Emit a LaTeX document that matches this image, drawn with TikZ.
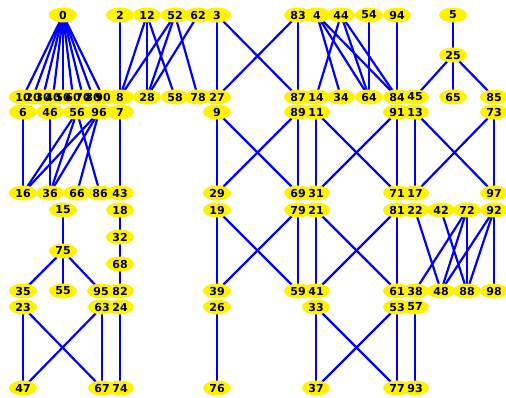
\documentclass[tikz,border=0pt]{standalone}
\usepackage{fontspec}
\newfontfamily\numfont{DejaVu Sans}
\usetikzlibrary{shapes.geometric}

\pgfdeclarelayer{edgelayer}
\pgfdeclarelayer{blobs}
\pgfsetlayers{edgelayer,blobs,main}

% number / x / y (in px, y downwards)
\def\vertexlist{0/63/15, 2/120/15, 12/147/15, 52/175/15, 62/198/15, 3/217/15, 83/298/15, 4/317/15, 44/341/15, 54/369/15, 94/397/15, 5/453/15,
25/453/55,
10/23/97, 20/33/97, 30/43/97, 40/53/97, 50/63/97, 60/73/97, 70/83/97, 80/93/97, 90/103/97, 8/120/97, 28/147/97, 58/175/97, 78/198/97, 27/217/97, 87/298/97, 14/316/97, 34/341/97, 64/369/97, 84/397/97, 45/415/97, 65/453/97, 85/494/97,
6/23/112, 46/50/112, 56/77/112, 96/99/112, 7/120/112, 9/217/112, 89/298/112, 11/316/112, 91/397/112, 13/415/112, 73/494/112,
16/23/193, 36/50/193, 66/77/193, 86/100/193, 43/120/193, 29/217/193, 69/298/193, 31/316/193, 71/397/193, 17/415/193, 97/494/193,
15/63/210, 18/120/210, 19/217/210, 79/298/210, 21/316/210, 81/397/210, 22/415/210, 42/441/210, 72/467/210, 92/494/210,
32/120/237, 75/63/251, 68/120/264,
35/23/291, 55/63/291, 95/101/291, 82/120/291, 39/217/291, 59/298/291, 41/316/291, 61/397/291, 38/415/291, 48/441/291, 88/467/291, 98/494/291,
23/23/307, 63/102/307, 24/120/307, 26/217/307, 33/316/307, 53/397/307, 57/415/307,
47/23/388, 67/102/388, 74/120/388, 76/217/388, 37/316/388, 77/397/388, 93/415/388}

\tikzset{
  num/.style={ellipse, minimum width=28pt, minimum height=15pt, inner sep=0pt,
    font=\numfont\bfseries\fontsize{11}{13}\selectfont},
  link/.style={blue, line width=2.2pt}
}

\begin{document}
\begin{tikzpicture}[x=1pt, y=-1pt]
    \useasboundingbox (0,0) rectangle (506,397);

    % Labels of the numbers
    \foreach \v/\x/\y in \vertexlist
        \node[num] (n\v) at (\x,\y) {\v};

    % Yellow blobs behind the labels
    \begin{pgfonlayer}{blobs}
        \foreach \v/\x/\y in \vertexlist
            \fill[yellow] (n\v.center) ellipse [x radius=14pt, y radius=7.5pt];
    \end{pgfonlayer}

    % Connections
    \begin{pgfonlayer}{edgelayer}
        % fan out of 0
        \foreach \b in {10,20,...,90}
            \draw[link] (n0.center) -- (n\b.center);
        % all the other pairs
        \foreach \a/\b in {2/8, 12/8, 12/28, 12/58, 52/8, 52/28, 52/78, 62/28,
            3/27, 3/87, 83/27, 83/87,
            4/34, 4/64, 4/84, 44/14, 44/64, 44/84, 54/64, 94/84,
            5/25, 25/45, 25/65, 25/85,
            6/16, 46/36, 56/16, 56/36, 56/86, 96/16, 96/36, 96/66,
            7/43,
            9/29, 9/69, 89/29, 89/69,
            11/31, 11/71, 91/31, 91/71,
            13/17, 13/97, 73/17, 73/97,
            15/75, 75/35, 75/55, 75/95,
            18/32, 32/68, 68/82,
            19/39, 19/59, 79/39, 79/59,
            21/41, 21/61, 81/41, 81/61,
            22/48, 42/88, 72/38, 72/48, 72/88, 92/48, 92/88, 92/98,
            23/47, 23/67, 63/47, 63/67,
            24/74, 26/76,
            33/37, 33/77, 53/37, 53/77,
            57/93}
            \draw[link] (n\a.center) -- (n\b.center);
    \end{pgfonlayer}
\end{tikzpicture}
\end{document}
